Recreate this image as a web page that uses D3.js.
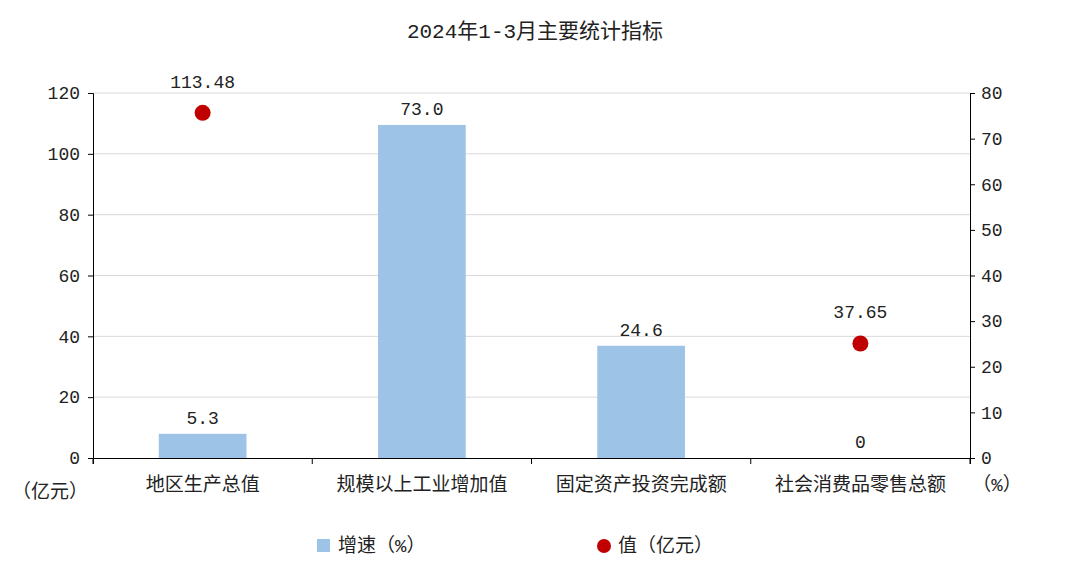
<!DOCTYPE html>
<html><head><meta charset="utf-8">
<script src="https://cdn.jsdelivr.net/npm/d3@7"></script>
<style>body{margin:0;background:#fff}text{font-family:"Liberation Mono","Noto Sans CJK SC",monospace;fill:#222}</style>
</head><body><svg id="c" width="1070" height="569"></svg>
<script>
const categories=["地区生产总值","规模以上工业增加值","固定资产投资完成额","社会消费品零售总额"];
const growth=[5.3,73.0,24.6,0];
const growthLabels=["5.3","73.0","24.6","0"];
const values=[113.48,null,null,37.65];
const valueLabels=["113.48","","","37.65"];
const leftTicks=[0,20,40,60,80,100,120];
const rightTicks=[0,10,20,30,40,50,60,70,80];
const FF='"Liberation Mono","Noto Sans CJK SC",monospace';

const svg=d3.select("#c");
const L=93,R=970,T=93,B=458;
const x=d3.scaleBand().domain(categories).range([L,R]).paddingInner(0.6).paddingOuter(0.3);
const xb=d3.scaleBand().domain(categories).range([L,R]);
const yl=d3.scaleLinear().domain([0,120]).range([B,T]);
const yr=d3.scaleLinear().domain([0,80]).range([B,T]);

svg.append("text").attr("x",535).attr("y",38).attr("text-anchor","middle").attr("font-size",21).text("2024年1-3月主要统计指标");

svg.append("g").selectAll("line").data(leftTicks.slice(1)).join("line")
 .attr("x1",L).attr("x2",R).attr("y1",d=>yl(d)).attr("y2",d=>yl(d)).attr("stroke","#d9d9d9");

const gl=svg.append("g").attr("transform",`translate(${L},0)`).call(d3.axisLeft(yl).tickValues(leftTicks).tickSize(5).tickPadding(8));
const gr=svg.append("g").attr("transform",`translate(${R},0)`).call(d3.axisRight(yr).tickValues(rightTicks).tickSize(5).tickPadding(6));
const gx=svg.append("g").attr("transform",`translate(0,${B})`).call(d3.axisBottom(xb).tickSize(6).tickPadding(14));
gx.selectAll(".tick line").attr("transform",`translate(${xb.bandwidth()/2},0)`);
gx.append("line").attr("x1",L).attr("x2",L).attr("y1",0).attr("y2",6).attr("stroke","#000");
[gl,gr,gx].forEach(g=>{g.selectAll("text").attr("font-size",18).attr("fill","#222").style("font-family",FF);g.selectAll("path,line").attr("stroke","#000");});
gx.selectAll("text").attr("font-size",19);

svg.append("g").selectAll("rect").data(growth).join("rect")
 .attr("x",(d,i)=>x(categories[i])).attr("width",x.bandwidth())
 .attr("y",d=>yr(d)).attr("height",d=>B-yr(d)).attr("fill","#9dc3e6");
svg.append("g").selectAll("text").data(growth).join("text")
 .attr("x",(d,i)=>x(categories[i])+x.bandwidth()/2).attr("y",d=>yr(d)-10)
 .attr("text-anchor","middle").attr("font-size",18).text((d,i)=>growthLabels[i]);

const pts=values.map((v,i)=>({v,i})).filter(d=>d.v!=null);
svg.append("g").selectAll("circle").data(pts).join("circle")
 .attr("cx",d=>xb(categories[d.i])+xb.bandwidth()/2).attr("cy",d=>yl(d.v)).attr("r",8).attr("fill","#c00000");
svg.append("g").selectAll("text").data(pts).join("text")
 .attr("x",d=>xb(categories[d.i])+xb.bandwidth()/2).attr("y",d=>yl(d.v)-25)
 .attr("text-anchor","middle").attr("font-size",18).text(d=>valueLabels[d.i]);

svg.append("text").attr("x",50).attr("y",498).attr("text-anchor","middle").attr("font-size",19).text("（亿元）");
svg.append("text").attr("x",997).attr("y",491).attr("text-anchor","middle").attr("font-size",19).text("（%）");

svg.append("rect").attr("x",317).attr("y",539).attr("width",13).attr("height",13).attr("fill","#9dc3e6");
svg.append("text").attr("x",338).attr("y",552).attr("font-size",19).text("增速（%）");
svg.append("circle").attr("cx",604).attr("cy",546).attr("r",7).attr("fill","#c00000");
svg.append("text").attr("x",618).attr("y",552).attr("font-size",19).text("值（亿元）");
</script></body></html>
